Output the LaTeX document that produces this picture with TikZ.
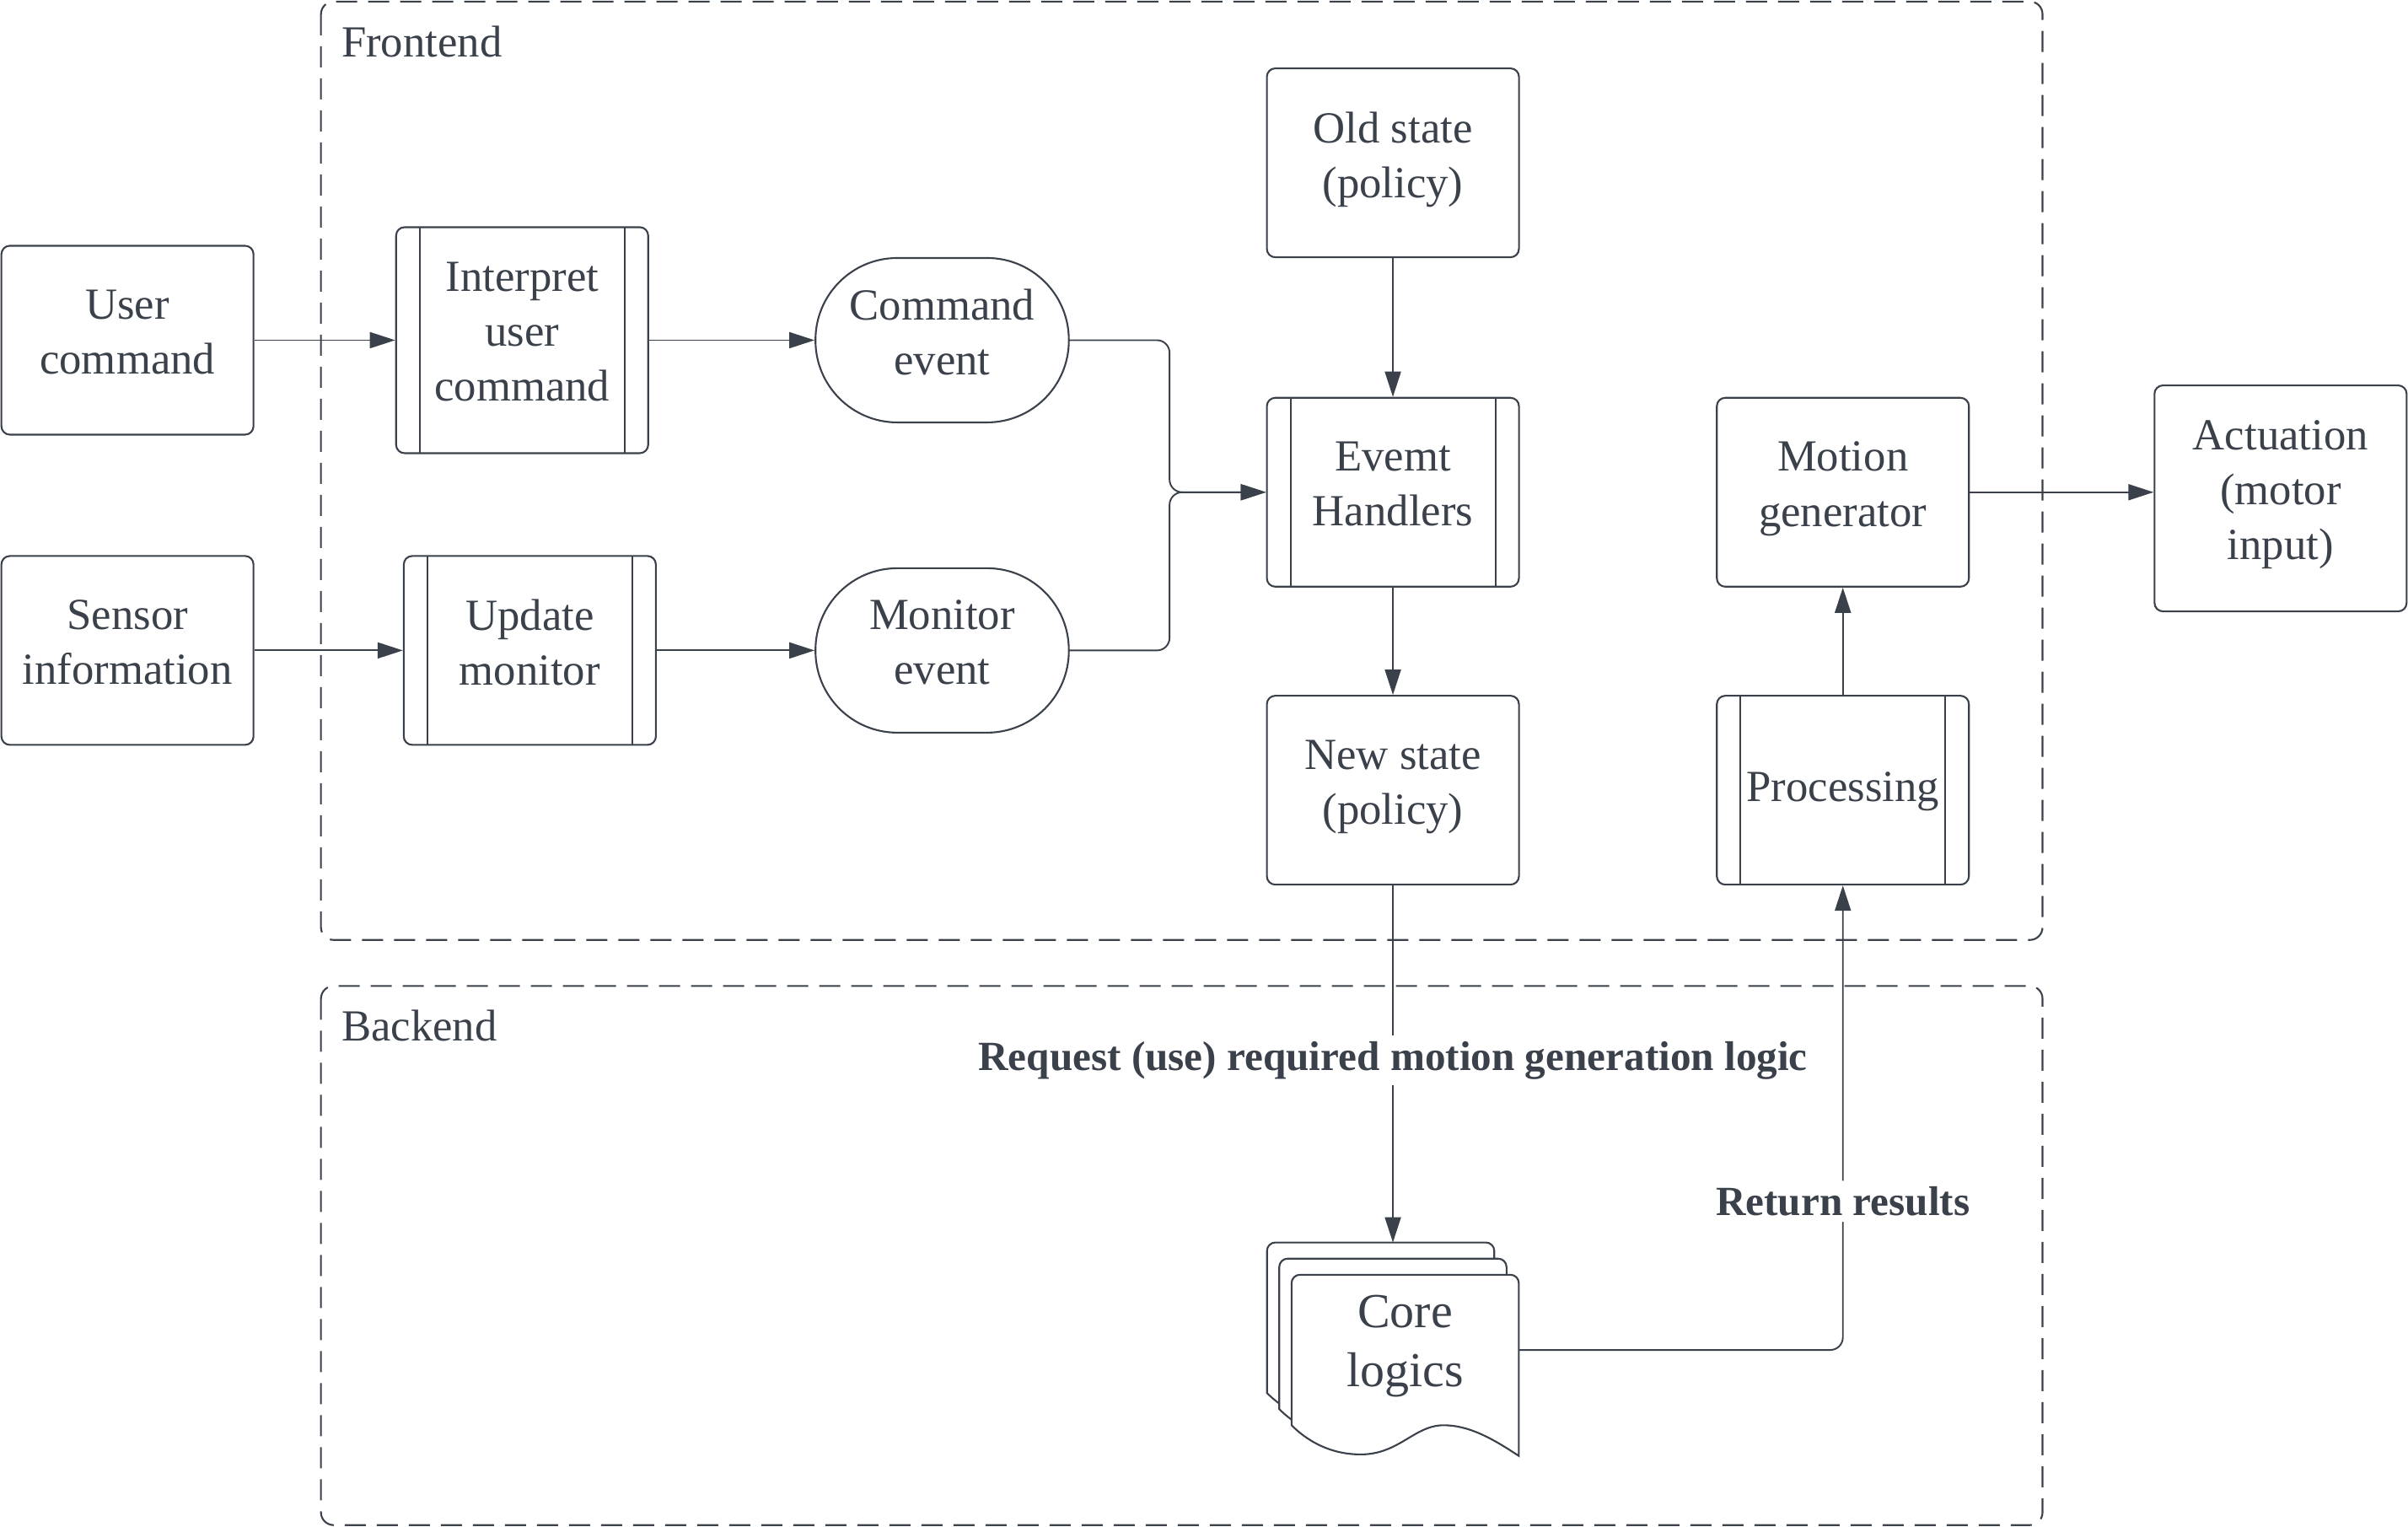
\documentclass[tikz,border=0pt]{standalone}
\usepackage{fontspec}
\setmainfont{Liberation Serif}
\usetikzlibrary{arrows.meta,positioning,calc}
\definecolor{inkgray}{RGB}{58,65,74}

% invisible rule giving every text line the same height and depth
\newcommand{\linestrut}{\rule[-0.3\baselineskip]{0pt}{\baselineskip}}

% one stacked sheet of the "Core logics" document pile (top left corner given)
\newcommand{\docsheet}[2]{%
    \filldraw[draw=inkgray, fill=white, line width=0.6pt]
        (#1,#2+98) [rounded corners=1mm] -- (#1,#2) -- (#1+148,#2) [sharp corners] -- (#1+148,#2+118)
        .. controls (#1+130,#2+106) and (#1+115,#2+98) .. (#1+99,#2+98)
        .. controls (#1+80,#2+98) and (#1+70,#2+117) .. (#1+45,#2+117)
        .. controls (#1+25,#2+117) and (#1+10,#2+108) .. (#1,#2+98) -- cycle;
}

\begin{document}
\begin{tikzpicture}[x=0.18214mm, y=-0.18214mm,
    every node/.style={font=\fontsize{15}{18.5}\selectfont, text=inkgray},
    struttext/.style={execute at begin node=\linestrut, execute at end node=\linestrut},
    box/.style={draw=inkgray, line width=0.6pt, fill=white, rounded corners=1mm, align=center,
        minimum width=29.9mm, minimum height=22.4mm, inner sep=1pt, struttext},
    procbox/.style={box, path picture={
        \draw[inkgray, line width=0.6pt] ([xshift=2.8mm]path picture bounding box.north west) -- ([xshift=2.8mm]path picture bounding box.south west);
        \draw[inkgray, line width=0.6pt] ([xshift=-2.8mm]path picture bounding box.north east) -- ([xshift=-2.8mm]path picture bounding box.south east);}},
    eventbox/.style={box, rounded corners=9.7mm, minimum width=30.05mm, minimum height=19.5mm},
    zone/.style={draw=inkgray, line width=0.6pt, dash pattern=on 2.5mm off 1.3mm, rounded corners=1.5mm},
    zonetitle/.style={anchor=base west, inner xsep=0pt},
    arr/.style={draw=inkgray, line width=0.55pt, -{Triangle[length=3mm, width=1.9mm]}},
    lbl/.style={font=\fontsize{14}{17}\selectfont\bfseries, fill=white, inner sep=2pt}
]
\useasboundingbox (0,0) rectangle (1568,994);

% Frontend / Backend zones
\draw[zone] (209,1) rectangle (1330,612);
\draw[zone] (209,642) rectangle (1330,993);
\node[zonetitle] (fronttitle) at (222,37) {Frontend};
\node[zonetitle] (backtitle) at (222,678) {Backend};

% Inputs
\node[box] (user) at (83,221.5) {User\\command};
\node[box] (sensor) at (83,423.5) {Sensor\\information};

% Frontend processing
\node[procbox, minimum height=26.8mm] (interp) at (340,221.5) {Interpret\\user\\command};
\node[procbox] (update) at (345,423.5) {Update\\monitor};
\node[eventbox] (cmdev) at (613.5,221.5) {Command\\event};
\node[eventbox] (monev) at (613.5,423.5) {Monitor\\event};
\node[box] (oldst) at (907,106) {Old state\\(policy)};
\node[procbox] (handler) at (907,320.5) {Evemt\\Handlers};
\node[box] (newst) at (907,514.5) {New state\\(policy)};
\node[box] (motion) at (1200,320.5) {Motion\\generator};
\node[procbox] (proc) at (1200,514.5) {Processing};

% Output
\node[box, minimum height=26.8mm] (act) at (1485,324.5) {Actuation\\(motor\\input)};

% Backend: stack of core logic documents
\docsheet{825}{809}
\docsheet{833}{819.5}
\docsheet{841}{830}
\node[struttext, font=\fontsize{16.5}{20}\selectfont, minimum width=26.96mm, align=center, inner sep=0pt] (core) at (915,879) {Core\\logics};
\coordinate (coretop) at (907,809);

% Connectors
\draw[arr] (user) -- (interp);
\draw[arr] (interp) -- (cmdev);
\draw[arr] (sensor) -- (update);
\draw[arr] (update) -- (monev);
\draw[arr, rounded corners=1.5mm] (cmdev.east) -- ++(65,0) |- (handler.west);
\draw[arr, rounded corners=1.5mm] (monev.east) -- ++(65,0) |- (handler.west);
\draw[arr] (oldst) -- (handler);
\draw[arr] (handler) -- (newst);
\draw[arr] (newst) -- (coretop) node[lbl, pos=0.49] {Request (use) required motion generation logic};
\draw[arr, rounded corners=1.5mm] (core.east) -| (proc.south) node[lbl, pos=0.66] {Return results};
\draw[arr] (proc) -- (motion);
\draw[arr] (motion.east) -- (motion.east -| act.west);

\end{tikzpicture}
\end{document}
